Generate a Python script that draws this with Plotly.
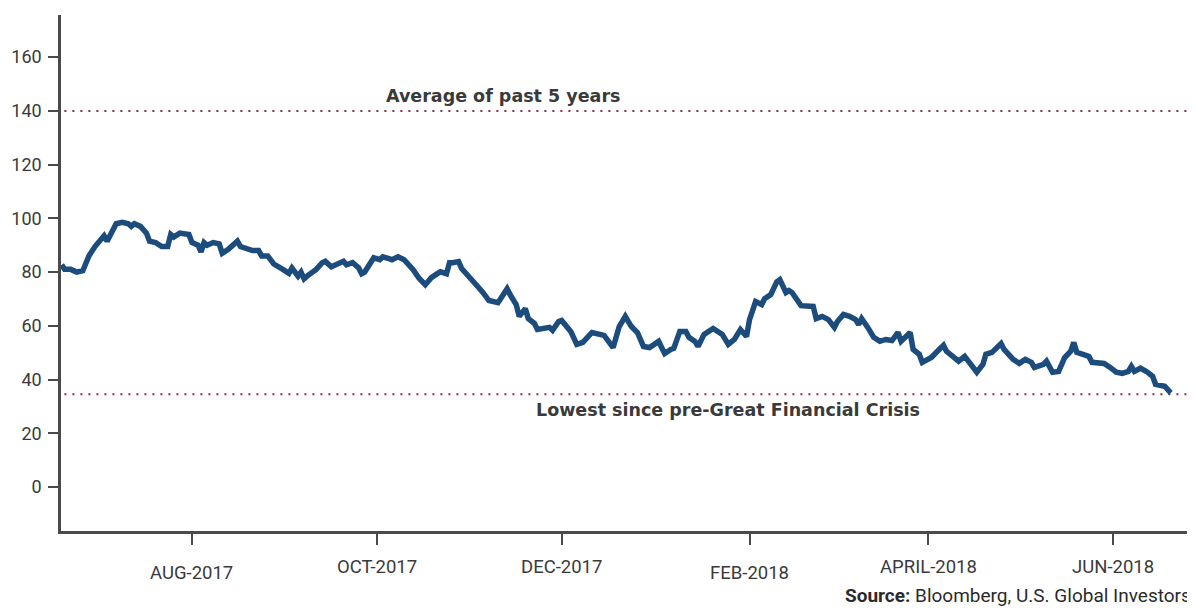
import plotly.graph_objects as go

# ---- data ----
dates = [
    "2017-06-19", "2017-06-20", "2017-06-22", "2017-06-24", "2017-06-26", "2017-06-28", "2017-06-30",
    "2017-07-02", "2017-07-03", "2017-07-04", "2017-07-06", "2017-07-07", "2017-07-09", "2017-07-11",
    "2017-07-12", "2017-07-13", "2017-07-15", "2017-07-17", "2017-07-18", "2017-07-20", "2017-07-22",
    "2017-07-24", "2017-07-25", "2017-07-26", "2017-07-28", "2017-07-31", "2017-08-01", "2017-08-03",
    "2017-08-04", "2017-08-05", "2017-08-06", "2017-08-08", "2017-08-10", "2017-08-11", "2017-08-13",
    "2017-08-14", "2017-08-16", "2017-08-17", "2017-08-19", "2017-08-21", "2017-08-23", "2017-08-24",
    "2017-08-26", "2017-08-27", "2017-08-28", "2017-08-31", "2017-09-02", "2017-09-03", "2017-09-05",
    "2017-09-06", "2017-09-07", "2017-09-08", "2017-09-11", "2017-09-13", "2017-09-14", "2017-09-16",
    "2017-09-17", "2017-09-20", "2017-09-21", "2017-09-23", "2017-09-25", "2017-09-26", "2017-09-27",
    "2017-09-29", "2017-09-30", "2017-10-02", "2017-10-03", "2017-10-05", "2017-10-06", "2017-10-08",
    "2017-10-10", "2017-10-13", "2017-10-15", "2017-10-17", "2017-10-19", "2017-10-21", "2017-10-22",
    "2017-10-24", "2017-10-25", "2017-10-26", "2017-10-28", "2017-10-29", "2017-11-01", "2017-11-03",
    "2017-11-05", "2017-11-07", "2017-11-10", "2017-11-11", "2017-11-13", "2017-11-14", "2017-11-16",
    "2017-11-17", "2017-11-19", "2017-11-20", "2017-11-22", "2017-11-23", "2017-11-26", "2017-11-27",
    "2017-11-28", "2017-11-30", "2017-12-01", "2017-12-04", "2017-12-06", "2017-12-08", "2017-12-11",
    "2017-12-13", "2017-12-15", "2017-12-18", "2017-12-20", "2017-12-22", "2017-12-23", "2017-12-24",
    "2017-12-26", "2017-12-28", "2017-12-30", "2018-01-02", "2018-01-03", "2018-01-04", "2018-01-06",
    "2018-01-07", "2018-01-09", "2018-01-11", "2018-01-12", "2018-01-14", "2018-01-15", "2018-01-17",
    "2018-01-20", "2018-01-22", "2018-01-23", "2018-01-25", "2018-01-27", "2018-01-29", "2018-01-31",
    "2018-02-01", "2018-02-03", "2018-02-05", "2018-02-06", "2018-02-08", "2018-02-10", "2018-02-11",
    "2018-02-13", "2018-02-14", "2018-02-15", "2018-02-18", "2018-02-20", "2018-02-22", "2018-02-23",
    "2018-02-25", "2018-02-27", "2018-03-01", "2018-03-02", "2018-03-04", "2018-03-06", "2018-03-08",
    "2018-03-09", "2018-03-10", "2018-03-12", "2018-03-14", "2018-03-16", "2018-03-18", "2018-03-20",
    "2018-03-22", "2018-03-23", "2018-03-26", "2018-03-27", "2018-03-29", "2018-03-30", "2018-04-02",
    "2018-04-04", "2018-04-06", "2018-04-07", "2018-04-09", "2018-04-11", "2018-04-13", "2018-04-15",
    "2018-04-17", "2018-04-19", "2018-04-20", "2018-04-22", "2018-04-25", "2018-04-26", "2018-04-29",
    "2018-05-01", "2018-05-03", "2018-05-05", "2018-05-06", "2018-05-09", "2018-05-10", "2018-05-12",
    "2018-05-14", "2018-05-16", "2018-05-18", "2018-05-19", "2018-05-20", "2018-05-23", "2018-05-24",
    "2018-05-25", "2018-05-27", "2018-05-29", "2018-05-31", "2018-06-02", "2018-06-04", "2018-06-06",
    "2018-06-07", "2018-06-08", "2018-06-10", "2018-06-12", "2018-06-14", "2018-06-15", "2018-06-18",
    "2018-06-19", "2018-06-20",
]

values = [
    82.7, 81.0, 81.0, 80.0, 80.5, 86.0, 89.5,
    92.5, 93.5, 91.5, 96.0, 98.0, 98.5, 98.0,
    97.0, 98.0, 97.0, 94.5, 91.5, 91.0, 89.5,
    89.5, 94.0, 93.0, 94.5, 94.0, 91.0, 90.0,
    87.5, 91.0, 90.0, 91.0, 90.5, 87.0, 88.5,
    89.5, 91.5, 89.5, 88.5, 88.0, 88.0, 86.0,
    86.0, 84.0, 83.0, 81.0, 79.5, 81.5, 78.5,
    80.0, 77.5, 78.5, 81.0, 83.5, 84.0, 82.0,
    82.5, 84.0, 82.7, 83.5, 81.6, 79.4, 80.0,
    84.2, 85.3, 84.6, 85.7, 85.0, 84.6, 85.7,
    84.6, 80.9, 77.6, 75.3, 77.9, 79.4, 80.1,
    79.4, 83.5, 83.5, 83.9, 81.3, 77.9, 75.0,
    72.4, 69.4, 68.6, 70.1, 73.8, 71.6, 67.9,
    63.5, 66.4, 62.7, 60.9, 58.6, 59.0, 59.4,
    58.3, 61.6, 62.0, 57.9, 53.1, 53.8, 57.5,
    56.8, 56.4, 51.9, 59.7, 63.5, 61.5, 59.7,
    57.5, 52.3, 51.9, 54.2, 51.9, 49.7, 51.2,
    51.6, 57.9, 57.9, 55.7, 54.2, 52.3, 56.8,
    59.0, 57.5, 56.8, 53.1, 54.9, 58.6, 56.0,
    62.3, 69.0, 67.9, 70.1, 71.6, 76.4, 77.2,
    72.4, 73.1, 72.4, 67.5, 67.2, 67.2, 62.7,
    63.5, 62.3, 59.4, 61.6, 64.2, 63.5, 62.3,
    60.5, 62.7, 59.4, 55.7, 54.2, 54.9, 54.5,
    57.5, 54.2, 57.5, 51.2, 49.4, 46.4, 48.2,
    50.5, 52.7, 50.5, 48.6, 46.8, 48.6, 45.3,
    42.7, 45.6, 49.4, 50.1, 53.4, 51.2, 47.5,
    46.0, 47.5, 46.4, 44.5, 45.6, 46.8, 42.7,
    43.0, 48.2, 50.5, 53.8, 50.1, 49.0, 48.6,
    46.4, 46.0, 46.0, 44.5, 42.7, 42.3, 43.0,
    44.9, 43.0, 44.2, 43.0, 41.2, 38.2, 37.5,
    36.4, 35.0,
]

avg_5y = 140
lowest_level = 34.5

x_tick_dates = ["2017-08-01", "2017-10-01", "2017-12-01", "2018-02-01", "2018-04-01", "2018-06-01"]
x_tick_labels = ["AUG-2017", "OCT-2017", "DEC-2017", "FEB-2018", "APRIL-2018", "JUN-2018"]
x_label_drop = [42, 36, 36, 42, 36, 36]
y_ticks = [0, 20, 40, 60, 80, 100, 120, 140, 160]

avg_label = "Average of past 5 years"
low_label = "Lowest since pre-Great Financial Crisis"

FONT = "Roboto"
BOLD_FONT = "DejaVu Sans"
AXIS_COLOR = "#4a4a4a"
TEXT_COLOR = "#3a3a3a"
LINE_COLOR = "#1B4C7C"
DOT_COLOR = "#8B2E4F"

fig = go.Figure()

fig.add_trace(go.Scatter(
    x=dates, y=values, mode="lines",
    line=dict(color=LINE_COLOR, width=5.5),
    hoverinfo="x+y", showlegend=False,
))

for level in (avg_5y, lowest_level):
    fig.add_shape(type="line", xref="paper", x0=0.003, x1=0.996, yref="y", y0=level, y1=level,
                  line=dict(color=DOT_COLOR, width=2, dash="2px,6px"), layer="below")

fig.add_annotation(text=avg_label, xref="paper", x=0.39, yref="y", y=avg_5y, yshift=15,
                   showarrow=False, xanchor="center", yanchor="middle",
                   font=dict(family=BOLD_FONT, size=17.5, color=TEXT_COLOR, weight="bold"))
fig.add_annotation(text=low_label, xref="paper", x=0.588, yref="y", y=lowest_level, yshift=-16,
                   showarrow=False, xanchor="center", yanchor="middle",
                   font=dict(family=BOLD_FONT, size=17.5, color=TEXT_COLOR, weight="bold"))

for d, lab, drop in zip(x_tick_dates, x_tick_labels, x_label_drop):
    fig.add_annotation(text=lab, xref="x", x=d, yref="paper", y=0, yshift=-drop,
                       showarrow=False, xanchor="center", yanchor="middle",
                       font=dict(family=FONT, size=18.5, color=TEXT_COLOR))

fig.add_annotation(text="<b>Source:</b> Bloomberg, U.S. Global Investors",
                   xref="paper", x=1, xshift=-3, yref="paper", y=0, yshift=-64,
                   showarrow=False, xanchor="right", yanchor="middle", borderpad=0,
                   font=dict(family=FONT, size=19, color="#2a2a2a"))

# The page body has an 8px default margin: size the figure so it fills the window.
fig.update_layout(
    width=1187, height=600,
    margin=dict(l=53, r=0, t=7, b=77),
    paper_bgcolor="white", plot_bgcolor="white",
    font=dict(family=FONT, color=TEXT_COLOR),
    xaxis=dict(
        type="date", range=["2017-06-18 19:00", "2018-06-28"],
        tickmode="array", tickvals=x_tick_dates, showticklabels=False,
        ticks="outside", ticklen=11, tickwidth=2, tickcolor=AXIS_COLOR,
        showline=True, linecolor=AXIS_COLOR, linewidth=2.5,
        showgrid=False, zeroline=False,
    ),
    yaxis=dict(
        range=[-16.4, 175.7],
        tickmode="array", tickvals=y_ticks,
        ticks="outside", ticklen=10, tickwidth=2, tickcolor=AXIS_COLOR,
        showline=True, linecolor=AXIS_COLOR, linewidth=2.5,
        showgrid=False, zeroline=False,
        tickfont=dict(family=FONT, size=18, color=TEXT_COLOR),
        ticklabelstandoff=3,
    ),
)

fig.write_html("out.html")
